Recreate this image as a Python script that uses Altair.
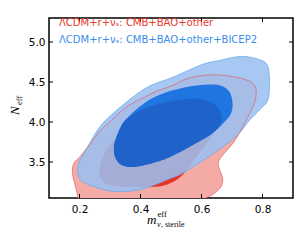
import altair as alt
import pandas as pd

# ---- data ----
x_ticks = [0.2, 0.4, 0.6, 0.8]
y_ticks = [3.5, 4.0, 4.5, 5.0]

red_outer_x = [0.20, 0.198, 0.194, 0.187, 0.177, 0.181, 0.20, 0.23, 0.27, 0.305, 0.34, 0.381, 0.414,
               0.45, 0.507, 0.56, 0.636, 0.713, 0.762, 0.779, 0.773, 0.746, 0.724, 0.702, 0.675, 0.658,
               0.656, 0.669, 0.664, 0.636, 0.61, 0.60, 0.40]
red_outer_y = [2.85, 2.95, 3.07, 3.19, 3.36, 3.48, 3.56, 3.70, 3.90, 4.02, 4.15, 4.25, 4.31,
               4.38, 4.46, 4.55, 4.59, 4.56, 4.50, 4.40, 4.23, 4.02, 3.86, 3.73, 3.61, 3.525,
               3.44, 3.30, 3.19, 3.09, 3.03, 2.85, 2.75]

red_inner_x = [0.30, 0.271, 0.266, 0.277, 0.299, 0.326, 0.345, 0.38, 0.428, 0.49, 0.537, 0.59, 0.636,
               0.658, 0.666, 0.647, 0.62, 0.592, 0.56, 0.53, 0.50, 0.47, 0.425, 0.36]
red_inner_y = [3.21, 3.28, 3.40, 3.57, 3.71, 3.84, 4.0, 4.1, 4.19, 4.25, 4.28, 4.29, 4.24,
               4.15, 4.02, 3.90, 3.75, 3.61, 3.44, 3.31, 3.24, 3.20, 3.185, 3.19]

blue_outer_x = [0.205, 0.194, 0.199, 0.227, 0.271, 0.348, 0.425, 0.507, 0.603, 0.66, 0.73, 0.79, 0.817,
                0.823, 0.817, 0.79, 0.757, 0.713, 0.625, 0.537, 0.494, 0.45, 0.392, 0.315, 0.249]
blue_outer_y = [3.27, 3.38, 3.50, 3.69, 3.96, 4.23, 4.44, 4.56, 4.72, 4.77, 4.82, 4.78, 4.70,
                4.48, 4.27, 4.15, 4.02, 3.82, 3.57, 3.36, 3.29, 3.22, 3.15, 3.13, 3.19]

blue_inner_x = [0.318, 0.313, 0.324, 0.345, 0.37, 0.40, 0.44, 0.483, 0.53, 0.592, 0.658, 0.691, 0.702,
                0.697, 0.68, 0.636, 0.57, 0.50, 0.45, 0.384, 0.34]
blue_inner_y = [3.55, 3.69, 3.84, 4.0, 4.1, 4.2, 4.3, 4.37, 4.42, 4.46, 4.46, 4.38, 4.23,
                4.11, 4.02, 3.86, 3.71, 3.57, 3.50, 3.44, 3.46]

overlap_x = [0.318, 0.313, 0.324, 0.345, 0.38, 0.428, 0.49, 0.537, 0.59, 0.636, 0.658, 0.666, 0.636,
             0.57, 0.50, 0.45, 0.384, 0.34]
overlap_y = [3.55, 3.69, 3.84, 4.0, 4.1, 4.19, 4.25, 4.28, 4.29, 4.24, 4.15, 4.02, 3.86,
             3.71, 3.57, 3.50, 3.44, 3.46]

legend_red = "ΛCDM+r+νₛ: CMB+BAO+other"
legend_blue = "ΛCDM+r+νₛ: CMB+BAO+other+BICEP2"

W, H = 244, 180
XS = alt.Scale(domain=[0.1, 0.9], nice=False, zero=False)
YS = alt.Scale(domain=[3.05, 5.3], nice=False, zero=False)
XA = alt.Axis(values=x_ticks, format=".1f", ticks=False, domain=False, grid=False, title=None,
              labelPadding=6, labelFontSize=10.5, labelFont="DejaVu Sans", labelColor="black")
YA = alt.Axis(values=y_ticks, format=".1f", ticks=False, domain=False, grid=False, title=None,
              labelPadding=4, labelFontSize=10.5, labelFont="DejaVu Sans", labelColor="black")


def poly(xs, ys):
    return pd.DataFrame({"x": xs, "y": ys, "i": list(range(len(xs)))})


def shape(xs, ys, **kw):
    return alt.Chart(poly(xs, ys)).mark_line(interpolate="cardinal-closed", clip=True, **kw).encode(
        x=alt.X("x:Q", scale=XS, axis=XA),
        y=alt.Y("y:Q", scale=YS, axis=YA),
        order=alt.Order("i:Q"),
    )


red_outer = shape(red_outer_x, red_outer_y, fill="#f4aaa5", strokeWidth=0)
red_inner = shape(red_inner_x, red_inner_y, fill="#e8352a", strokeWidth=0)
blue_outer = shape(blue_outer_x, blue_outer_y, fill="#98bff1", fillOpacity=0.865,
                   stroke="#6fa9ee", strokeWidth=0.8)
blue_inner = shape(blue_inner_x, blue_inner_y, fill="#2076e0", strokeWidth=0)
overlap = shape(overlap_x, overlap_y, fill="#1f62c9", strokeWidth=0)
red_line = shape(red_outer_x, red_outer_y, stroke="#e0606a", strokeWidth=0.9, opacity=0.8)

xt = pd.DataFrame({"v": x_ticks})
yt = pd.DataFrame({"v": y_ticks})
tick_b = alt.Chart(xt).mark_rule(color="black", strokeWidth=1).encode(
    x=alt.X("v:Q", scale=XS, axis=XA), y=alt.value(H), y2=alt.value(H - 4))
tick_t = alt.Chart(xt).mark_rule(color="black", strokeWidth=1).encode(
    x=alt.X("v:Q", scale=XS, axis=XA), y=alt.value(0), y2=alt.value(4))
tick_l = alt.Chart(yt).mark_rule(color="black", strokeWidth=1).encode(
    y=alt.Y("v:Q", scale=YS, axis=YA), x=alt.value(0), x2=alt.value(4))
tick_r = alt.Chart(yt).mark_rule(color="black", strokeWidth=1).encode(
    y=alt.Y("v:Q", scale=YS, axis=YA), x=alt.value(W), x2=alt.value(W - 4))


def label(text, x, y, size, color="black", font="DejaVu Sans", style="normal", angle=0,
          align="left", baseline="alphabetic"):
    return alt.Chart(pd.DataFrame({"t": [text]})).mark_text(
        font=font, fontSize=size, color=color, fontStyle=style, angle=angle,
        align=align, baseline=baseline).encode(text="t:N", x=alt.value(x), y=alt.value(y))


texts = [
    label(legend_red, 10, 4.5, 10, color="#e8392e", baseline="middle"),
    label(legend_blue, 10, 21.5, 10, color="#3a8de8", baseline="middle"),
    label("m", 98, 205.5, 13, font="Liberation Serif", style="italic"),
    label("eff", 108.5, 199, 8.5, font="Liberation Serif"),
    label("ν", 108, 209, 8, font="Liberation Serif", style="italic"),
    label(", sterile", 112, 209, 8, font="Liberation Serif"),
    label("N", -30, 97, 13, font="Liberation Serif", style="italic", angle=270),
    label("eff", -27, 87, 8.5, font="Liberation Serif", angle=270),
]

chart = alt.layer(red_outer, red_inner, blue_outer, blue_inner, overlap, red_line,
                  tick_b, tick_t, tick_l, tick_r, *texts).properties(
    width=W, height=H,
    autosize=alt.AutoSizeParams(type="none"),
    padding={"left": 41, "top": 10, "right": 2, "bottom": 40},
).configure_view(stroke="black", strokeWidth=1.5)

chart.save("out.html", embed_options={"renderer": "svg", "actions": False})
